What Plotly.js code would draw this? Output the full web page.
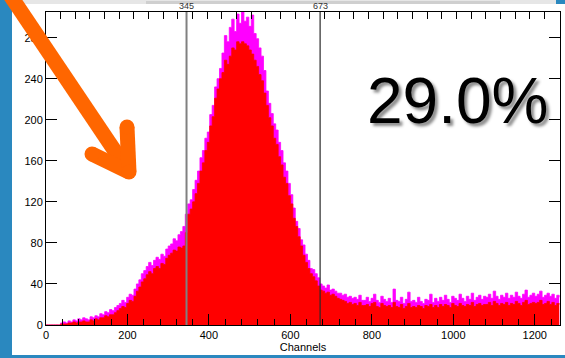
<!DOCTYPE html>
<html>
<head>
<meta charset="utf-8">
<script src="https://cdn.plot.ly/plotly-3.0.1.min.js"></script>
<style>
html,body{margin:0;padding:0;background:#fff;}
#chart{width:565px;height:358px;}
</style>
</head>
<body>
<div id="chart"></div>
<script>
// ---- data ----
var binWidth = 6; // channels per bin
var magentaCounts = [
0,0,0,0,0,0,2,3,2,4,
3,5,4,6,5,7,6,5,8,7,
9,8,11,10,13,12,15,14,17,19,
21,24,22,27,30,29,35,40,44,50,
53,57,61,58,63,66,64,69,67,74,
77,79,84,82,88,91,96,108,118,122,
132,141,150,163,170,182,188,205,214,232,
240,250,265,282,276,290,298,286,303,294,
306,296,300,291,302,284,279,270,262,248,
228,216,206,196,190,178,170,158,150,138,
127,114,101,94,83,78,69,63,55,54,
50,46,40,38,36,39,34,35,33,31,
31,29,30,27,28,26,27,25,29,24,
24,27,23,26,30,24,22,28,25,23,
26,22,35,24,23,27,21,25,32,23,
24,22,27,23,21,25,24,30,22,26,
23,27,24,29,25,22,28,26,24,30,
26,23,28,25,31,24,27,29,25,28,
27,30,26,33,28,25,29,27,31,26,
29,27,32,28,26,30,34,27,29,31,
28,30,33,27,29,31,28,30,26,29,27
];
var redCounts = [
0,0,0,0,0,0,1,1,1,2,
2,3,2,3,3,4,3,3,5,4,
6,5,7,7,9,8,10,10,12,14,
16,18,17,21,24,23,28,33,37,42,
45,49,52,50,55,57,55,60,59,65,
68,70,73,72,76,75,77,90,108,113,
120,128,138,150,158,170,178,194,203,221,
230,240,246,258,254,262,270,268,276,274,
276,274,272,268,264,258,252,244,238,226,
214,202,194,182,176,164,156,144,138,126,
118,104,96,86,77,68,61,55,50,47,
43,38,34,33,31,32,29,30,28,26,
25,24,23,21,22,20,21,19,22,19,
19,20,18,21,22,18,17,21,19,18,
19,17,22,18,17,20,16,18,21,17,
18,17,19,18,16,19,18,20,17,19,
17,20,18,20,19,17,21,19,18,21,
19,18,20,19,22,18,20,21,19,20,
20,22,19,23,21,19,21,20,22,19,
21,20,23,21,19,22,24,20,21,22,
21,22,24,20,21,23,20,22,19,21,20
];
var markerChannels = [345, 673];
var markerLabels = ['345', '673'];
var xTickVals = [0, 200, 400, 600, 800, 1000, 1200];
var yTickVals = [0, 40, 80, 120, 160, 200, 240, 280];
var percentText = '29.0%';

// ---- build ----
var channels = magentaCounts.map(function(_, i){ return i * binWidth; });
var W = 565, H = 358, L = 46, R = 5, T = 12, B = 33;
var PW = W - L - R, PH = H - T - B;
function px(x){ return (x - L) / PW; }
function py(y){ return (H - B - y) / PH; }

var traces = [
  {x: channels, y: magentaCounts, type: 'scatter', mode: 'lines',
   line: {shape: 'hv', width: 0.8, color: '#ff00ff'}, fill: 'tozeroy', fillcolor: '#ff00ff',
   hoverinfo: 'skip', showlegend: false},
  {x: channels, y: redCounts, type: 'scatter', mode: 'lines',
   line: {shape: 'hv', width: 0.8, color: '#ff0000'}, fill: 'tozeroy', fillcolor: '#ff0000',
   hoverinfo: 'skip', showlegend: false}
];

var orange = '#ff6600';
var shapes = [];
// blue frame strips
shapes.push({type:'rect', xref:'paper', yref:'paper', x0:px(0), x1:px(12), y0:py(H), y1:py(0), fillcolor:'#2a88bf', line:{width:0}, layer:'above'});
shapes.push({type:'rect', xref:'paper', yref:'paper', x0:px(0), x1:px(W), y0:py(H), y1:py(355), fillcolor:'#2a88bf', line:{width:0}, layer:'above'});
shapes.push({type:'rect', xref:'paper', yref:'paper', x0:px(556), x1:px(W), y0:py(4), y1:py(0), fillcolor:'#2a88bf', line:{width:0}, layer:'above'});
// top gray strip
shapes.push({type:'rect', xref:'paper', yref:'paper', x0:px(12), x1:px(556), y0:py(4), y1:py(0), fillcolor:'#e6e6e6', line:{width:0}, layer:'above'});
shapes.push({type:'rect', xref:'paper', yref:'paper', x0:px(146), x1:px(500), y0:py(4), y1:py(1), fillcolor:'#cfcfcf', line:{width:0}, layer:'above'});
// ROI marker lines
shapes.push({type:'line', xref:'x', yref:'paper', x0:markerChannels[0], x1:markerChannels[0], y0:0, y1:1, line:{color:'#808080', width:2}, layer:'above'});
shapes.push({type:'line', xref:'x', yref:'paper', x0:markerChannels[1], x1:markerChannels[1], y0:0, y1:1, line:{color:'#2a2a2a', width:1.2}, layer:'above'});
// orange arrow
var segs = [[10,-5,129,172],[92,154,129,172],[127,127,129,172]];
segs.forEach(function(s){
  shapes.push({type:'line', xref:'paper', yref:'paper', x0:px(s[0]), y0:py(s[1]), x1:px(s[2]), y1:py(s[3]), line:{color:orange, width:15}, layer:'above'});
});
[[92,154],[127,127],[129,172]].forEach(function(p){
  var r = 7.5;
  shapes.push({type:'circle', xref:'paper', yref:'paper', x0:px(p[0]-r), x1:px(p[0]+r), y0:py(p[1]+r), y1:py(p[1]-r), fillcolor:orange, line:{width:0}, layer:'above'});
});

var annotations = [];
markerChannels.forEach(function(c, i){
  annotations.push({x:c, xref:'x', y:py(6), yref:'paper', text:markerLabels[i], showarrow:false,
    xanchor:'center', yanchor:'middle', font:{family:'Liberation Sans, Arial, sans-serif', size:9, color:'#333'}});
});
annotations.push({x:px(457), xref:'paper', y:py(101), yref:'paper', text:percentText, showarrow:false,
  xanchor:'center', yanchor:'middle',
  font:{family:'Liberation Sans, Arial, sans-serif', size:64, color:'#000', shadow:'3px 3px 3px rgba(0,0,0,0.45)'}});

var tickFont = {family:'Liberation Sans, Arial, sans-serif', size:11, color:'#000'};
var layout = {
  width: W, height: H,
  margin: {l:L, r:R, t:T, b:B, pad:0},
  paper_bgcolor: '#ffffff', plot_bgcolor: '#ffffff',
  showlegend: false,
  xaxis: {range:[0, 1262], tickvals:xTickVals, ticktext:xTickVals.map(String),
    ticks:'inside', ticklen:11, tickwidth:1, tickcolor:'#000',
    minor:{dtick:40, tick0:0, ticks:'inside', ticklen:6, tickcolor:'#000'},
    showline:true, linecolor:'#000', linewidth:1, mirror:true,
    showgrid:false, zeroline:false, tickfont:tickFont,
    title:{text:'Channels', font:tickFont, standoff:2}, automargin:false, fixedrange:true},
  xaxis2: {range:[0, 1262], overlaying:'x', side:'top', anchor:'y', dtick:36, tick0:0,
    ticks:'inside', ticklen:7, tickcolor:'#000', showticklabels:false, showline:false,
    showgrid:false, zeroline:false, fixedrange:true},
  yaxis: {range:[0, 305], tickvals:yTickVals, ticktext:yTickVals.map(String),
    ticks:'inside', ticklen:11, tickwidth:1, tickcolor:'#000',
    showline:true, linecolor:'#000', linewidth:1, mirror:'ticks',
    showgrid:false, zeroline:false, tickfont:tickFont, automargin:false, fixedrange:true},
  shapes: shapes,
  annotations: annotations
};
traces.push({x:[0], y:[0], xaxis:'x2', yaxis:'y', type:'scatter', mode:'markers', marker:{opacity:0}, hoverinfo:'skip', showlegend:false});
Plotly.newPlot('chart', traces, layout, {displayModeBar:false, staticPlot:true});
</script>
</body>
</html>
